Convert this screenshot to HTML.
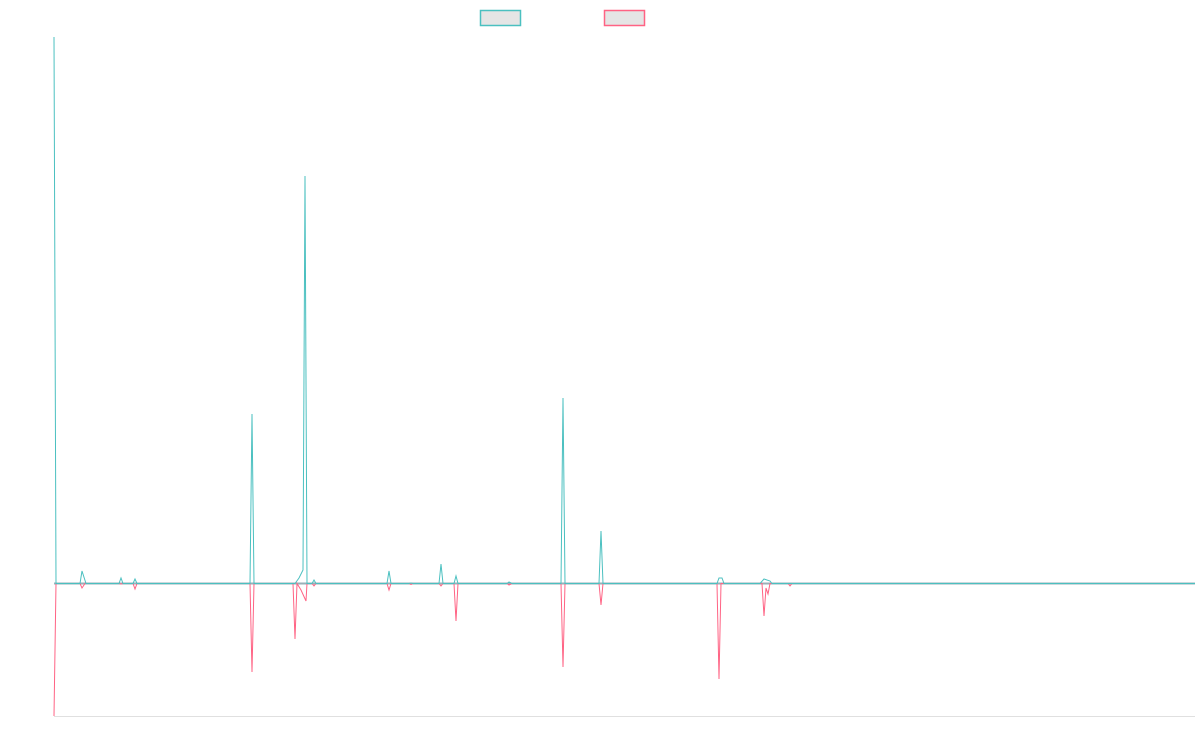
<!DOCTYPE html>
<html><head><meta charset="utf-8"><style>html,body{margin:0;padding:0;background:#fff;width:1200px;height:750px;overflow:hidden}</style></head>
<body>
<svg width="1200" height="750" viewBox="0 0 1200 750" xmlns="http://www.w3.org/2000/svg">
<rect x="480.5" y="10.5" width="40" height="15" fill="#e5e5e5" stroke="#4bc0c0" stroke-width="1.5"/>
<rect x="604.5" y="10.5" width="40" height="15" fill="#e5e5e5" stroke="#ff6384" stroke-width="1.5"/>
<line x1="54" y1="716.5" x2="1195" y2="716.5" stroke="#e0e0e0" stroke-width="1"/>
<line x1="54" y1="583.5" x2="1195" y2="583.5" stroke="#9ab0b8" stroke-width="2"/>
<polyline fill="none" stroke="#ff6384" stroke-width="1" points="54,716 56,583.5 80,583.5 82,588 85,583.5 119,583.5 121,584 123,583.5 133,583.5 135,589 137,583.5 250,583.5 252,672 254,583.5 293,583.5 295,639 297,583.5 301,590 306,601 307,583.5 312,583.5 314,586 316,583.5 387,583.5 389,590 391,583.5 409,583.5 411,584.5 413,583.5 439,583.5 441,586 443,583.5 454,583.5 456,621 458,583.5 507,583.5 509,585 512,583.5 561,583.5 563,667 565,583.5 599,583.5 601,605 603,583.5 717,583.5 719,679 721,583.5 762,583.5 764,616 766,588 768,594 770,583.5 788,583.5 790,586 792,583.5 1195,583.5"/>
<polyline fill="none" stroke="#4bc0c0" stroke-width="1" points="54,37 56,583.5 80,583.5 82,571 86,583.5 119,583.5 121,578 123,583.5 133,583.5 135,579 137,583.5 250,583.5 252,414 254,583.5 295,583.5 299,578 303,570 305,176 307,583.5 312,583.5 314,580 316,583.5 387,583.5 389,571 391,583.5 409,583.5 411,583 413,583.5 439,583.5 441,564 443,583.5 454,583.5 456,576 458,583.5 507,583.5 509,582 512,583.5 561,583.5 563,398 565,583.5 599,583.5 601,531 603,583.5 717,583.5 719,578 722,578 724,583.5 760,583.5 764,579 770,581 772,583.5 1195,583.5"/>
</svg>
</body></html>
